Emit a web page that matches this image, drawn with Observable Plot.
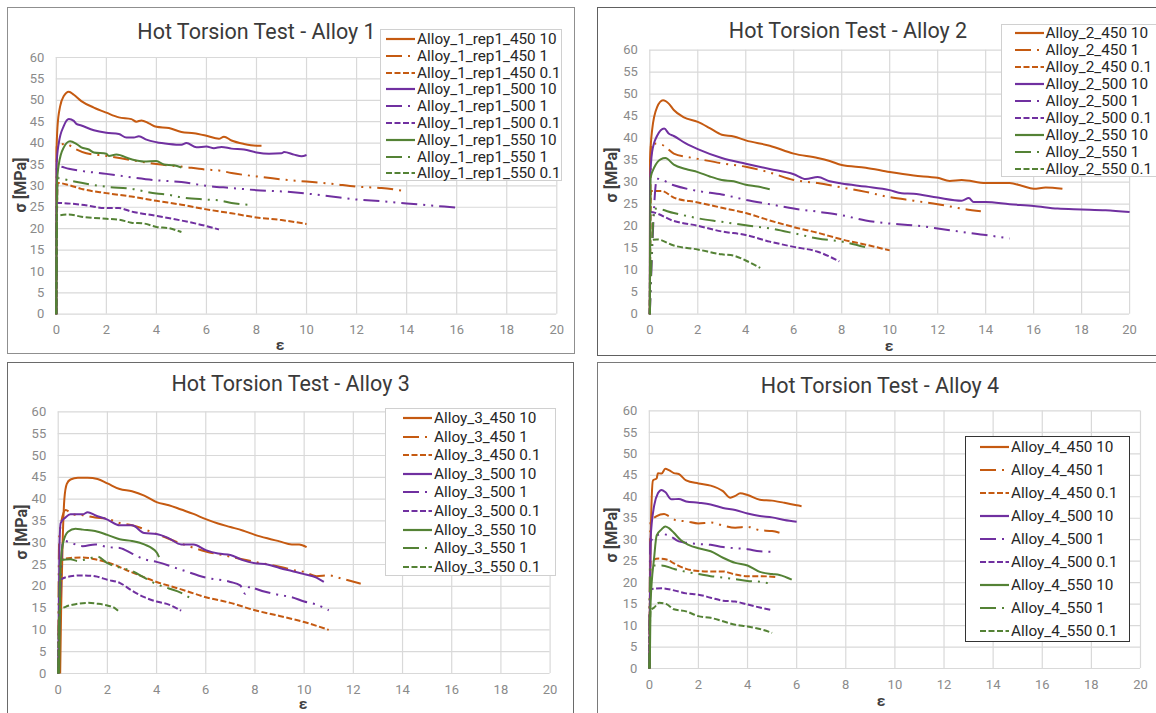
<!DOCTYPE html>
<html><head><meta charset="utf-8">
<script src="https://cdn.jsdelivr.net/npm/d3@7"></script>
<script src="https://cdn.jsdelivr.net/npm/@observablehq/plot@0.6"></script>
<style>
html,body{margin:0;padding:0;background:#fff;}
body{width:1156px;height:713px;overflow:hidden;position:relative;font-family:Roboto,"DejaVu Sans",sans-serif;}
.box{position:absolute;box-sizing:border-box;}
.title{position:absolute;transform:translate(-50%,-50%);font-size:21.5px;color:#3a3a3a;white-space:nowrap;line-height:1;}
.xlab{position:absolute;transform:translate(-50%,-50%);font-size:15.5px;font-weight:bold;color:#404040;line-height:0.85;}
.ylab{position:absolute;transform:translate(-50%,-50%) rotate(-90deg);font-size:16px;font-weight:bold;color:#404040;white-space:nowrap;line-height:1;}
.leg{position:absolute;box-sizing:border-box;background:#fff;}
.item{position:absolute;transform:translateY(-50%);font-size:15.3px;color:#262626;white-space:nowrap;line-height:15px;}
</style></head><body>
<script>
// ---------- categories ----------
const temps = ["450", "500", "550"];
const rates = ["10", "1", "0.1"];
const alloyTitles = ["Hot Torsion Test - Alloy 1", "Hot Torsion Test - Alloy 2", "Hot Torsion Test - Alloy 3", "Hot Torsion Test - Alloy 4"];
const seriesPrefix = ["Alloy_1_rep1_", "Alloy_2_", "Alloy_3_", "Alloy_4_"];
const xTicks = [0, 2, 4, 6, 8, 10, 12, 14, 16, 18, 20];
const yTicks = [0, 5, 10, 15, 20, 25, 30, 35, 40, 45, 50, 55, 60];
const xTitle = "ε";
const yTitle = "σ [MPa]";

// ---------- Alloy 1 : [strain, stress] ----------
const a1_450_10 = [[0,0],[0.01,38],[0.05,44],[0.15,48.5],[0.3,51],[0.5,52],[0.7,51.3],[1,49.8],[1.5,48.3],[2,47.1],[2.5,46],[3,45.6],[3.2,45],[3.4,45.3],[3.7,44.6],[4,43.8],[4.5,43.5],[5,42.6],[5.5,42.3],[6,41.7],[6.5,41],[6.7,41.5],[7,40.6],[7.5,39.8],[8,39.4],[8.2,39.4]];
const a1_450_1 = [[0,0],[0.02,39.5],[0.4,39.8],[0.7,38.8],[1.2,37.6],[2,37],[3,36],[4,35.1],[5,34.5],[6,33.8],[6.5,33.6],[7,33],[8,32.2],[9,31.5],[10,31],[11,30.5],[12,29.8],[13,29.5],[14,28.7]];
const a1_450_01 = [[0,0],[0.05,30.7],[0.5,30.2],[1,29.3],[2,28.3],[3,27.5],[4,26.5],[5,25.6],[6,24.5],[7,23.6],[8,22.6],[9,22],[10,21.1]];
const a1_500_10 = [[0,0],[0.01,35],[0.1,40],[0.3,44],[0.5,45.6],[0.7,45.2],[0.8,44.5],[1,44.1],[1.5,43],[2,42.4],[2.5,42.1],[2.8,41.3],[3.1,41.3],[3.3,41.6],[3.6,40.8],[4,40.2],[4.5,39.8],[5,39.6],[5.2,40],[5.6,39],[6,39.2],[6.3,38.8],[6.6,39.1],[7,38.7],[7.5,38.5],[8,37.8],[8.5,37.5],[9,37.6],[9.1,37.9],[9.5,37.3],[9.8,36.9],[10,37.2]];
const a1_500_1 = [[0,0],[0.05,34.6],[0.5,34],[1,33.5],[2,32.8],[3,32],[4,31.3],[5,30.9],[6,30],[7,29.5],[8,29],[9,28.7],[10,28.2],[11,27.5],[12,26.8],[13,26.4],[14,25.9],[15,25.4],[16,24.9]];
const a1_500_01 = [[0,0],[0.02,26],[1,25.6],[2,24.8],[2.5,24.8],[3,24],[4,23],[5,21.9],[6,20.6],[6.5,19.8]];
const a1_550_10 = [[0,0],[0.02,30],[0.1,35],[0.3,39],[0.55,40.4],[0.8,39.8],[1,39],[1.3,38.5],[1.5,37.8],[2,37.5],[2.1,37],[2.4,37.3],[3,36.2],[3.5,35.7],[4,35.8],[4.3,35],[4.7,34.8],[5,34.3]];
const a1_550_1 = [[0,0],[0.05,31.8],[0.5,31.3],[1,30.7],[2,29.8],[3,29.3],[4,28.2],[4.5,27.9],[5,27.3],[6,26.8],[6.5,26.6],[7,26],[7.8,25.5]];
const a1_550_01 = [[0,0],[0.02,23],[0.5,23.3],[1,22.8],[2,22.3],[2.5,22.1],[3,21.4],[3.5,21.2],[4,20.4],[4.5,20.1],[5,19.2]];

// ---------- Alloy 2 ----------
const a2_450_10 = [[0,0],[0.01,35],[0.1,42],[0.3,47],[0.55,48.6],[0.8,47.8],[1,46.4],[1.4,44.8],[2,43.7],[2.5,42.3],[3,40.8],[3.5,40.4],[4,39.5],[5,38.3],[6,36.5],[7,35.5],[7.5,34.8],[8,33.9],[9,33.3],[10,32.3],[11,31.5],[12,31],[12.5,30.3],[13,30.5],[14,29.8],[15,29.8],[15.5,29.2],[16,28.5],[16.5,28.8],[17.2,28.5]];
const a2_450_1 = [[0,0],[0.05,38.8],[0.5,38.5],[1,36.5],[1.6,35.7],[2,35.3],[3,34.3],[4,33.5],[5,32.2],[6,30.5],[7,29.8],[8,28.8],[9,27.8],[10,26.6],[11,25.8],[12,25],[13,24],[13.8,23.4]];
const a2_450_01 = [[0,0],[0.05,28],[0.5,28],[1,26.5],[2,25.4],[3,24.2],[4,23],[5,21.3],[6,19.8],[7,18.5],[8,17],[9,15.8],[10,14.5]];
const a2_500_10 = [[0,0],[0.01,30],[0.1,37],[0.3,40.5],[0.6,42.2],[0.8,41],[1,40.5],[1.5,38.8],[2,37.5],[3,35.5],[4,34.2],[5,33],[6,31.8],[6.5,30.7],[7,31.2],[7.5,30.2],[8,29.7],[9,29],[10,28.2],[10.5,27.5],[11,27.4],[12,26.5],[13,25.8],[13.3,26.4],[13.5,25.5],[14,25.5],[15,25],[16,24.6],[17,24],[18,23.8],[19,23.6],[20,23.2]];
const a2_500_1 = [[0,0],[0.3,30.8],[1,29.3],[2,28],[3,27.2],[4,26],[5,25],[6,24],[7,23.3],[8,22.5],[9,21.3],[10,20.6],[11,20.2],[12,19.5],[13,18.7],[14,18],[15,17.2]];
const a2_500_01 = [[0,0],[0.02,23.2],[1,21.2],[2,20.1],[3,18.8],[4,18],[5,16.5],[6,15.3],[7,14.2],[7.9,12]];
const a2_550_10 = [[0,0],[0.03,31],[0.2,33.5],[0.45,35.2],[0.65,35.5],[1,34],[1.5,33],[2,32.3],[2.5,31.3],[3,30.5],[3.5,30.2],[4,29.4],[4.5,29],[5,28.4]];
const a2_550_1 = [[0,0],[0.2,24],[1,23],[2,21.8],[3,21],[4,20.2],[5,19.5],[6,18.4],[7,17.2],[8,16.5],[9,15.2]];
const a2_550_01 = [[0,0],[0.02,16.8],[0.3,17],[1,15.6],[2,14.7],[3,13.6],[3.5,13.3],[4,12.2],[4.6,10.5]];

// ---------- Alloy 3 ----------
const a3_450_10 = [[0.08,0],[0.12,15],[0.18,30],[0.25,40],[0.35,43.5],[0.5,44.5],[0.8,44.9],[1.2,44.9],[1.6,44.6],[2,43.6],[2.5,42.3],[3,41.8],[3.5,40.8],[4,39.3],[4.5,38.6],[5,37.6],[5.5,36.6],[6,35.4],[6.5,34.4],[7,33.6],[7.5,32.8],[8,31.8],[8.5,31],[9,30.3],[9.5,29.6],[9.8,29.6],[10.1,29]];
const a3_450_1 = [[0,0],[0.03,28],[0.05,32],[0.3,37.5],[0.6,36.5],[1,36.3],[1.5,35.8],[2,35.5],[2.5,34.5],[3,34],[4,32],[5,29.8],[6,28],[7,26.8],[8,25.6],[9,24.5],[9.5,23.8],[10,23.3],[10.5,22.3],[11,22.5],[11.5,21.8],[12.3,20.6]];
const a3_450_01 = [[0,0],[0.1,26],[0.5,26.5],[1,26.6],[1.5,26.2],[2,25.5],[3,23.2],[4,21],[5,19.3],[6,17.5],[7,16.2],[8,14.5],[9,13.2],[10,11.8],[11,10]];
const a3_500_10 = [[0,0],[0.05,29],[0.1,34.5],[0.3,35.8],[0.5,36.5],[1,36.5],[1.2,37],[1.5,36.3],[2,35.3],[2.5,34],[3,34],[3.5,32.2],[4,32],[4.5,31],[5,29.6],[5.5,29.6],[6,28.3],[6.5,27.5],[7,27.2],[7.5,26],[8,25.3],[8.5,25],[9,24.2],[9.5,23.5],[10,22.8],[10.5,22],[10.8,21]];
const a3_500_1 = [[0,0],[0.2,30.5],[0.5,30],[1,29.2],[1.5,29.6],[2,29],[2.5,28.8],[3,27.5],[3.5,26.2],[4,25.6],[5,23.8],[6,22],[7,21],[7.4,20.2],[7.6,18.3],[7.8,20],[8,19.5],[9,18],[9.5,17.5],[10,16.5],[10.5,15.8],[11,14.5]];
const a3_500_01 = [[0,0],[0.1,21.5],[0.5,22.3],[1,22.5],[1.5,22.3],[2,21.5],[2.5,20.8],[3,19],[3.5,17.5],[4,16.5],[4.5,15.8],[5,14.4]];
const a3_550_10 = [[0.04,0],[0.1,25],[0.2,30],[0.4,32.5],[0.7,33.2],[1,33],[1.5,32.7],[2,31.8],[2.5,30.8],[3,30.4],[3.5,29.6],[4,27.8],[4.1,26.7]];
const a3_550_1 = [[0,0],[0.1,26],[0.5,26.2],[0.8,25.8],[1.2,26.3],[1.6,26.8],[2,25.3],[2.5,24.3],[3,23.5],[3.5,22],[4,20.5],[4.5,19.5],[5,18.5],[5.5,16.8]];
const a3_550_01 = [[0,0],[0.05,14.5],[0.3,15.3],[0.7,15.9],[1.2,16.2],[1.6,16],[2,15.6],[2.3,15],[2.5,14]];

// ---------- Alloy 4 ----------
const a4_450_10 = [[0,0],[0.05,28],[0.1,40],[0.15,43.8],[0.3,44.3],[0.35,45.5],[0.5,45.4],[0.65,46.5],[0.8,46.2],[1,45.5],[1.2,45.3],[1.5,43.8],[2,43.1],[2.5,42.6],[3,41.3],[3.3,39.8],[3.5,40.2],[3.7,40.8],[4,40.4],[4.5,39.3],[5,39.1],[5.5,38.6],[6,38],[6.2,37.8]];
const a4_450_1 = [[0,0],[0.05,34],[0.3,35.5],[0.6,36],[0.8,35.5],[1.1,34.5],[1.5,34.3],[2,33.8],[2.5,34],[3,33.3],[3.5,32.8],[4,33],[4.5,32.2],[5,32],[5.3,31.6]];
const a4_450_01 = [[0,0],[0.05,25],[0.4,25.6],[0.7,25.4],[1,24.5],[1.5,23.2],[2,22.7],[2.5,22.6],[3,22.6],[3.5,21.9],[4,21.5],[4.5,21.5],[5.2,21.3]];
const a4_500_10 = [[0,0],[0.05,30],[0.2,38],[0.35,40.8],[0.5,41.6],[0.65,41.1],[0.9,39.4],[1.2,39.5],[1.5,38.9],[2,38.6],[2.5,38.2],[3,37.4],[3.5,36.9],[4,36.1],[4.5,35.5],[5,35.2],[5.5,34.6],[6,34.2]];
const a4_500_1 = [[0,0],[0.05,29.5],[0.2,30.5],[0.5,31.3],[0.8,31],[1.2,29.6],[1.5,29.3],[2,29],[2.5,28.8],[3,28.3],[3.5,28],[4,27.8],[4.5,27.3],[5,27.2]];
const a4_500_01 = [[0,0],[0.05,18.5],[0.5,18.7],[1,18.2],[1.5,17.5],[2,17.2],[2.5,16.5],[3,15.8],[3.5,15.6],[4,14.9],[4.5,14.2],[5,13.6]];
const a4_550_10 = [[0.02,0],[0.05,15],[0.2,26],[0.3,31],[0.5,32.4],[0.65,33.1],[0.8,32.7],[1,31.6],[1.3,29.8],[1.6,28.8],[2,28],[2.5,27.3],[3,25.8],[3.5,24.6],[4,24],[4.5,22.5],[5,22],[5.3,21.8],[5.8,20.7]];
const a4_550_1 = [[0,0],[0.05,24],[0.5,24],[1,23.2],[1.5,22.5],[2,22],[2.5,21.5],[3,21.2],[3.5,20.8],[4,20.4],[4.5,20.2],[4.9,19.8]];
const a4_550_01 = [[0,0],[0.05,13.5],[0.2,14.2],[0.4,15.3],[0.7,15],[1,13.8],[1.5,13.3],[2,12.2],[2.5,11.8],[3,11],[3.5,10.2],[4,9.8],[4.5,9.2],[5,8.3]];

const alloySeries = [
  [a1_450_10, a1_450_1, a1_450_01, a1_500_10, a1_500_1, a1_500_01, a1_550_10, a1_550_1, a1_550_01],
  [a2_450_10, a2_450_1, a2_450_01, a2_500_10, a2_500_1, a2_500_01, a2_550_10, a2_550_1, a2_550_01],
  [a3_450_10, a3_450_1, a3_450_01, a3_500_10, a3_500_1, a3_500_01, a3_550_10, a3_550_1, a3_550_01],
  [a4_450_10, a4_450_1, a4_450_01, a4_500_10, a4_500_1, a4_500_01, a4_550_10, a4_550_1, a4_550_01]
];

// ---------- styling / layout ----------
const tempColors = ["#C55A11", "#7030A0", "#548235"];
const rateDash = {"10": null, "1": "16,6,2,6,2,6", "0.1": "6,2.5"};
const layouts = [
  {box:[6.7,7.3,575,354], plot:[55.5,556,57.3,314], border:"#8f8f8f", title:[256.5,31.5], xlab:[280,346], ylab:[21,185],
   legend:{box:[380,29,562,181], sample:386, text:417, rows:[39.3,56,72.7,89.3,106,123,140,156.7,173.3], border:"#d0d0d0", bw:1}},
  {box:[596.5,7.3,1180,356], plot:[648.8,1128.6,50,314], border:"#606060", title:[848,30.7], xlab:[889,347], ylab:[612,175],
   legend:{box:[1000.5,24,1180,176.7], sample:1015, text:1045.6, rows:[33.3,50,67.3,84.3,101,118.3,135,152.3,169.3], border:"#d0d0d0", bw:1}},
  {box:[6.7,362.3,574,740], plot:[57.4,549.3,411.7,673.3], border:"#6a6a6a", title:[290.6,384.3], xlab:[303,704.5], ylab:[22,532],
   legend:{box:[385,408,556,576], sample:403, text:434, rows:[418.3,436.7,455,474,492.3,511,529.7,548.3,566.7], border:"#d0d0d0", bw:1}},
  {box:[597,362.3,1180,740], plot:[648.8,1140,410.7,668.3], border:"#7a7a7a", title:[880,385.7], xlab:[881,702], ylab:[612,535],
   legend:{box:[965,435.7,1130,641.7], sample:980, text:1011, rows:[446.7,470,492.7,516,539,561.7,585,607.7,630.7], border:"#333333", bw:1.5}}
];

function el(tag, cls, css, text) {
  const e = document.createElement(tag);
  if (cls) e.className = cls;
  Object.assign(e.style, css || {});
  if (text != null) e.textContent = text;
  document.body.appendChild(e);
  return e;
}

layouts.forEach((L, k) => {
  const [bl, bt, br, bb] = L.box;
  el("div", "box", {left: bl+"px", top: bt+"px", width: (br-bl)+"px", height: (bb-bt)+"px", border: "1.4px solid " + L.border});

  const w = Math.round(br - bl), h = Math.round(bb - bt);
  const [pl, pr, pt, pb] = L.plot;
  const marks = [
    Plot.ruleX(xTicks, {stroke: "#d9d9d9", strokeWidth: 1.2}),
    Plot.ruleY(yTicks, {stroke: "#d9d9d9", strokeWidth: 1.2})
  ];
  alloySeries[k].forEach((pts, i) => {
    const t = temps[Math.floor(i / 3)], r = rates[i % 3];
    marks.push(Plot.line(pts, {x: d => d[0], y: d => d[1], stroke: () => t, strokeWidth: 2,
      strokeDasharray: rateDash[r], curve: "monotone-x", strokeLinecap: "butt"}));
  });
  const svg = Plot.plot({
    width: w, height: h,
    marginLeft: pl - bl, marginRight: bl + w - pr, marginTop: pt - bt, marginBottom: bt + h - pb,
    x: {domain: [0, 20], ticks: xTicks, tickSize: 0, tickPadding: 11, label: null},
    y: {domain: [0, 60], ticks: yTicks, tickSize: 0, tickPadding: 12, label: null},
    color: {domain: temps, range: tempColors},
    style: {background: "transparent", color: "#8a8a8a", fontSize: "13px", fontFamily: "Roboto, 'DejaVu Sans', sans-serif", overflow: "visible"},
    marks
  });
  svg.style.position = "absolute";
  svg.style.left = bl + "px";
  svg.style.top = bt + "px";
  document.body.appendChild(svg);

  el("div", "title", {left: L.title[0]+"px", top: L.title[1]+"px"}, alloyTitles[k]);
  el("div", "xlab", {left: L.xlab[0]+"px", top: L.xlab[1]+"px"}, xTitle);
  el("div", "ylab", {left: L.ylab[0]+"px", top: L.ylab[1]+"px"}, yTitle);

  const G = L.legend;
  el("div", "leg", {left: G.box[0]+"px", top: G.box[1]+"px", width: (G.box[2]-G.box[0])+"px", height: (G.box[3]-G.box[1])+"px", border: G.bw + "px solid " + G.border});
  G.rows.forEach((y, i) => {
    const t = temps[Math.floor(i / 3)], r = rates[i % 3];
    const s = document.createElementNS("http://www.w3.org/2000/svg", "svg");
    s.setAttribute("width", 30); s.setAttribute("height", 8);
    s.style.position = "absolute"; s.style.left = G.sample + "px"; s.style.top = (y - 4) + "px";
    const ln = document.createElementNS("http://www.w3.org/2000/svg", "line");
    ln.setAttribute("x1", 0); ln.setAttribute("x2", 29); ln.setAttribute("y1", 4); ln.setAttribute("y2", 4);
    ln.setAttribute("stroke", tempColors[Math.floor(i / 3)]); ln.setAttribute("stroke-width", 2.2);
    if (rateDash[r]) ln.setAttribute("stroke-dasharray", rateDash[r]);
    s.appendChild(ln);
    document.body.appendChild(s);
    el("div", "item", {left: G.text+"px", top: y+"px"}, seriesPrefix[k] + t + " " + r);
  });
});
</script>
</body></html>
